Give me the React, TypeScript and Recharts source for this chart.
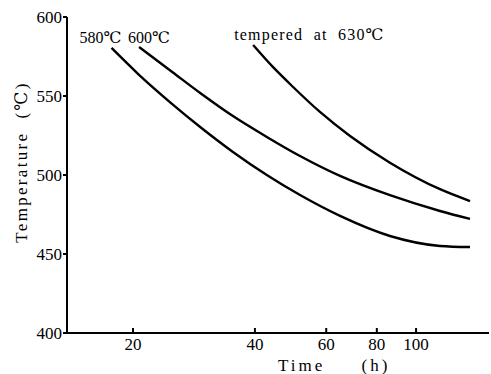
import { CartesianGrid, Label, Line, LineChart, XAxis, YAxis } from "recharts";

const FONT = "Liberation Serif, DejaVu Serif, Noto Sans CJK SC, serif";

// time (h) and temperature (℃) for each tempering curve
const time580 = [17.7, 20.6, 25.0, 29.3, 35.3, 42.8, 51.7, 64.9, 86.2, 114.6, 135.9];
const temp580 = [580.4, 563.9, 544.9, 530.4, 514.6, 500.0, 487.3, 474.1, 461.4, 455.1, 454.4];

const time600 = [20.7, 25.0, 29.3, 35.3, 42.8, 51.7, 64.9, 86.2, 114.6, 135.9];
const temp600 = [581.0, 565.2, 551.9, 537.3, 524.1, 512.0, 499.4, 487.2, 477.2, 472.2];

const time630 = [39.6, 44.3, 49.7, 57.9, 68.7, 86.2, 114.6, 135.9];
const temp630 = [582.3, 568.4, 555.7, 539.9, 524.7, 507.8, 491.0, 483.5];

const xTicks = [20, 40, 60, 80, 100];
const yTicks = [400, 450, 500, 550, 600];

const toRows = (xs: number[], ys: number[]) => xs.map((t, i) => ({ t, v: ys[i] }));

const series = [
    { name: "580℃", data: toRows(time580, temp580), dx: -11, dy: -5, anchor: "middle" },
    { name: "600℃", data: toRows(time600, temp600), dx: 10, dy: -4, anchor: "middle" },
    { name: "tempered  at  630℃", data: toRows(time630, temp630), dx: -19, dy: -5, anchor: "start" },
];

function XTick({ x, y, payload }: any) {
    return (
        <g>
            <line x1={x} x2={x} y1={y - 5} y2={y} stroke="#000" strokeWidth={2} />
            <text x={x} y={y + 17} textAnchor="middle" fontSize={17} style={{ fontFamily: FONT }} fill="#000">
                {payload.value}
            </text>
        </g>
    );
}

function YTick({ x, y, payload }: any) {
    return (
        <g>
            <line x1={x - 4} x2={x} y1={y} y2={y} stroke="#000" strokeWidth={2} />
            <text x={x - 5} y={y + 6} textAnchor="end" fontSize={17} style={{ fontFamily: FONT }} fill="#000">
                {payload.value}
            </text>
        </g>
    );
}

export default function App() {
    return (
        <div style={{ position: "absolute", left: 0, top: 0, background: "#fff" }}>
            <LineChart width={491} height={374} margin={{ top: 17, right: 2, bottom: 0, left: 0 }}>
                <CartesianGrid stroke="none" />
                <XAxis
                    dataKey="t"
                    type="number"
                    scale="log"
                    domain={[13.74, 151.4]}
                    allowDataOverflow
                    ticks={xTicks}
                    tick={<XTick />}
                    tickLine={false}
                    tickSize={0}
                    tickMargin={0}
                    height={41}
                    axisLine={{ stroke: "#000", strokeWidth: 2 }}
                >
                    <Label
                        content={() => (
                            <text x={278} y={371} fontSize={17} fill="#000" letterSpacing={3} style={{ whiteSpace: "pre", fontFamily: FONT }}>
                                Time{"     "}(h)
                            </text>
                        )}
                    />
                </XAxis>
                <XAxis
                    xAxisId="top"
                    orientation="top"
                    type="number"
                    domain={[13.74, 151.4]}
                    height={0}
                    tick={false}
                    tickLine={false}
                    axisLine={{ stroke: "#000", strokeWidth: 2 }}
                />
                <YAxis
                    type="number"
                    domain={[400, 600]}
                    ticks={yTicks}
                    tick={<YTick />}
                    tickLine={false}
                    tickSize={0}
                    tickMargin={0}
                    width={67}
                    axisLine={{ stroke: "#000", strokeWidth: 2 }}
                >
                    <Label
                        content={() => (
                            <text
                                x={21}
                                y={162}
                                transform="rotate(-90 21 162)"
                                textAnchor="middle"
                                dominantBaseline="central"
                                fontSize={17}
                                fill="#000"
                                letterSpacing={2.3}
                                style={{ whiteSpace: "pre", fontFamily: FONT }}
                            >
                                Temperature  (℃)
                            </text>
                        )}
                    />
                </YAxis>
                <YAxis
                    yAxisId="right"
                    orientation="right"
                    type="number"
                    domain={[400, 600]}
                    width={0}
                    tick={false}
                    tickLine={false}
                    axisLine={{ stroke: "#000", strokeWidth: 2 }}
                />
                {series.map((s) => (
                    <Line
                        key={s.name}
                        data={s.data}
                        dataKey="v"
                        type="monotone"
                        stroke="#000"
                        strokeWidth={2.4}
                        dot={false}
                        isAnimationActive={false}
                        label={({ x, y, index }: any) =>
                            index === 0 ? (
                                <text
                                    key="lbl"
                                    x={x + s.dx}
                                    y={y + s.dy}
                                    textAnchor={s.anchor}
                                    fontSize={16}
                                    fill="#000"
                                    letterSpacing={s.anchor === "start" ? 1.2 : 0}
                                    style={{ whiteSpace: "pre", fontFamily: FONT }}
                                >
                                    {s.name}
                                </text>
                            ) : (
                                <g key={index} />
                            )
                        }
                    />
                ))}
            </LineChart>
        </div>
    );
}
